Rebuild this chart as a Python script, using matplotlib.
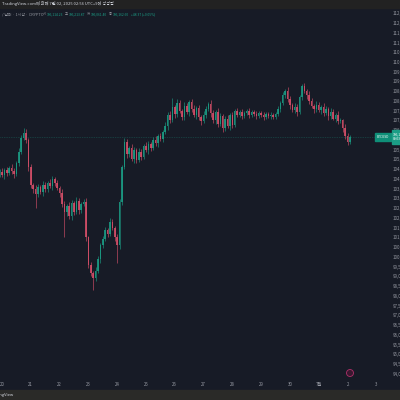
import numpy as np
import matplotlib.pyplot as plt
from matplotlib.patches import Rectangle, Circle

plt.rcParams['font.family'] = ['Noto Sans CJK KR', 'DejaVu Sans']

# BTC / USD, 2-hour candles, prices in thousands of USD
first_open = 104.25
closes = [
    104.35, 104.2, 104.45, 104.3, 104.55, 104.4, 104.25, 104.8,
    105.4, 106.1, 106.35, 106.0, 104.6, 103.7, 103.5, 103.25,
    103.6, 103.35, 103.7, 103.5, 103.8, 103.65, 104.0,
    103.8, 103.55, 103.3, 102.7, 102.3,
    102.6, 102.1, 102.75, 102.3, 102.85, 102.4, 102.7, 102.8,
    101.0, 99.6, 99.2, 98.9, 99.3,
    99.9, 100.6, 100.9, 101.4, 101.2, 101.8, 101.5, 101.0, 100.6,
    102.8, 104.6, 105.9,
    105.3, 105.6, 105.0, 105.5, 104.95, 105.4, 105.15, 105.7, 105.5,
    105.8, 105.6, 106.0, 105.85, 106.2, 106.05, 106.4, 106.7,
    107.3, 107.0, 107.7,
    107.35, 107.9, 107.5, 107.2, 107.75, 107.45, 107.95, 107.6, 107.3, 107.65, 107.2,
    106.95, 107.3, 107.6, 107.85, 107.4,
    107.0, 107.45, 106.8, 107.25, 106.6, 107.1, 106.7, 107.3, 106.75, 107.5,
    107.3, 107.45, 107.25, 107.4, 107.5, 107.3, 107.45, 107.35, 107.25, 107.4,
    107.3, 107.2, 107.35, 107.25, 107.3, 107.2, 107.35, 107.6, 107.9,
    108.3, 108.5, 108.1, 107.8, 107.55, 107.7, 107.45, 108.2, 108.75,
    108.5, 108.3, 108.0, 107.75, 107.6, 107.8, 107.55,
    107.7, 107.4, 107.6, 107.25, 107.45, 107.1, 107.3, 106.95, 107.0,
    106.6, 106.2, 105.9, 106.16,
]
up_wick = [
    0.15, 0.2, 0.1, 0.15, 0.1, 0.2, 0.15, 0.1, 0.2, 0.15,
    0.25, 0.2, 0.1, 0.15, 0.1, 0.2, 0.15, 0.1, 0.2, 0.15,
    0.1, 0.2, 0.15, 0.1, 0.15, 0.1, 0.2, 0.15, 0.1, 0.2,
    0.15, 0.1, 0.2, 0.15, 0.1, 0.15, 0.2, 0.1, 0.15, 0.1,
    0.2, 0.15, 0.1, 0.2, 0.15, 0.1, 0.2, 0.15, 0.1, 0.2,
    0.15, 0.1, 0.2, 0.15, 0.1, 0.2, 0.15, 0.1, 0.2, 0.15,
    0.1, 0.2, 0.15, 0.1, 0.15, 0.2, 0.1, 0.15, 0.1, 0.2,
    0.15, 0.2, 0.45, 0.1, 0.2, 0.15, 0.1, 0.2, 0.15, 0.1,
    0.15, 0.2, 0.1, 0.15, 0.1, 0.2, 0.15, 0.1, 0.2, 0.15,
    0.1, 0.2, 0.15, 0.1, 0.15, 0.2, 0.1, 0.15, 0.1, 0.15,
    0.1, 0.15, 0.1, 0.1, 0.15, 0.1, 0.1, 0.15, 0.1, 0.1,
    0.15, 0.1, 0.1, 0.15, 0.1, 0.1, 0.15, 0.1, 0.15, 0.1,
    0.2, 0.15, 0.1, 0.2, 0.15, 0.1, 0.1, 0.15, 0.1, 0.2,
    0.15, 0.1, 0.2, 0.15, 0.1, 0.2, 0.15, 0.1, 0.2, 0.15,
    0.1, 0.2, 0.15, 0.1, 0.2, 0.15, 0.1,
]
down_wick = [
    0.15, 0.1, 0.2, 0.15, 0.1, 0.15, 0.2, 0.1, 0.15, 0.1,
    0.1, 0.15, 0.2, 0.15, 0.2, 0.75, 0.15, 0.1, 0.2, 0.15,
    0.15, 0.1, 0.2, 0.15, 0.1, 0.2, 0.15, 1.3, 0.2, 0.15,
    0.2, 0.15, 0.1, 0.2, 0.15, 0.1, 0.2, 0.15, 0.2, 0.6,
    0.15, 0.1, 0.2, 0.15, 0.1, 0.2, 0.15, 0.1, 0.2, 0.9,
    0.2, 0.15, 0.1, 0.2, 0.15, 0.1, 0.2, 0.15, 0.1, 0.2,
    0.15, 0.1, 0.2, 0.15, 0.1, 0.15, 0.2, 0.1, 0.15, 0.1,
    0.2, 0.15, 0.1, 0.2, 0.15, 0.1, 0.2, 0.15, 0.1, 0.2,
    0.15, 0.1, 0.2, 0.15, 0.2, 0.1, 0.15, 0.1, 0.2, 0.15,
    0.2, 0.15, 0.1, 0.2, 0.15, 0.1, 0.2, 0.15, 0.1, 0.1,
    0.1, 0.15, 0.1, 0.1, 0.15, 0.1, 0.1, 0.15, 0.1, 0.1,
    0.15, 0.1, 0.1, 0.15, 0.1, 0.1, 0.1, 0.15, 0.1, 0.15,
    0.15, 0.2, 0.1, 0.15, 0.2, 0.1, 0.15, 0.1, 0.2, 0.15,
    0.1, 0.2, 0.15, 0.1, 0.2, 0.15, 0.1, 0.2, 0.15, 0.1,
    0.2, 0.15, 0.1, 0.2, 0.15, 0.15, 0.1,
]
day_labels = ['20', '21', '22', '23', '24', '25', '26', '27', '28', '29', '30', '7월', '2', '3']
header_top = 'TradingView.com에 의해 7월 02, 2025 02:56 UTC+9에 생성됨'
header_symbol = '/ 달러 · 1시간 · CRYPTO'
ohlc_names = ['시', '고', '저', '종']
ohlc_values = ['106,114.23', '106,213.87', '106,061.40', '106,162.60']
change_text = '+48.37 (+0.05%)'

bg = '#171b26'
green = '#1b9e86'
red = '#d9506a'
txt = '#9598a1'

opens = [first_open] + closes[:-1]
idx = np.arange(len(closes))
o = np.array(opens)
c = np.array(closes)
hi = np.maximum(o, c) + np.array(up_wick)
lo = np.minimum(o, c) - np.array(down_wick)
cols = [green if cc >= oo else red for oo, cc in zip(o, c)]

fig = plt.figure(figsize=(4, 4), dpi=100, facecolor=bg)
ax = fig.add_axes([0, 21 / 400, 391 / 400, 371 / 400])
ax.set_facecolor(bg)
for s in ax.spines.values():
    s.set_visible(False)

ax.vlines(idx, lo, hi, colors=cols, linewidth=0.5, alpha=0.85)
ax.bar(idx, np.maximum(np.abs(c - o), 0.03), bottom=np.minimum(o, c),
       width=0.6, color=cols, linewidth=0, alpha=0.85)
ax.axhline(closes[-1], color=green, lw=0.5, ls=(0, (1, 1.5)), alpha=0.5)

ax.set_xlim(0.167, 163.1)
ax.set_ylim(93.74, 112.77)

# price scale; the label under the last-price box is hidden as on the screen
ax.yaxis.tick_right()
price_ticks = np.arange(94, 112.51, 0.5)
ax.set_yticks(price_ticks)
ax.set_yticklabels(['' if abs(v - closes[-1]) < 0.3 else f'{v * 1000:,.0f}'
                    for v in price_ticks])
ax.tick_params(axis='y', length=0, pad=1.5, labelsize=3.2, colors=txt)
ax.set_xticks([1 + 12 * d for d in range(len(day_labels))])
ax.set_xticklabels(day_labels)
ax.tick_params(axis='x', length=0, pad=2, labelsize=3.2, colors=txt)

# top and bottom bars
fig.patches.append(Rectangle((0, 392 / 400), 1, 8 / 400, transform=fig.transFigure,
                             color='#222222', zorder=0))
fig.patches.append(Rectangle((0, 0), 1, 10 / 400, transform=fig.transFigure,
                             color='#2a2a28', zorder=0))
fig.text(2 / 400, 396 / 400, header_top, color='#d1d4dc', fontsize=3.0, va='center')
fig.text(-10 / 400, 5 / 400, 'TradingView', color='#d1d4dc', fontsize=3.0, va='center')

# legend line
fig.text(2 / 400, 386 / 400, header_symbol, color=txt, fontsize=2.8, va='center')
x0 = 43
for name, val in zip(ohlc_names, ohlc_values):
    fig.text(x0 / 400, 386 / 400, name, color=txt, fontsize=2.4, va='center')
    fig.text((x0 + 3.5) / 400, 386 / 400, val, color=green, fontsize=2.4, va='center')
    x0 += 22
fig.text(x0 / 400, 386 / 400, change_text, color=green, fontsize=2.4, va='center')

# last price labels
fig.patches.append(Rectangle((375 / 400, 259 / 400), 16 / 400, 8 / 400,
                             transform=fig.transFigure, color='#0f8f78', zorder=3))
fig.text(383 / 400, 263 / 400, 'BTCUSD', color='white', fontsize=2.3,
         ha='center', va='center', zorder=4)
fig.patches.append(Rectangle((392 / 400, 256 / 400), 8 / 400, 14 / 400,
                             transform=fig.transFigure, color=green, zorder=3))
fig.text(393 / 400, 263 / 400, '106,162\n00:03', color='white', fontsize=2.4,
         va='center', linespacing=1.3, zorder=4)

# alert icon
fig.patches.append(Circle((350 / 400, 27 / 400), 3.5 / 400, transform=fig.transFigure,
                          facecolor='#3a1830', edgecolor='#b0306a', lw=0.6, zorder=3))

fig.savefig('out.png', dpi=100, facecolor=bg)
